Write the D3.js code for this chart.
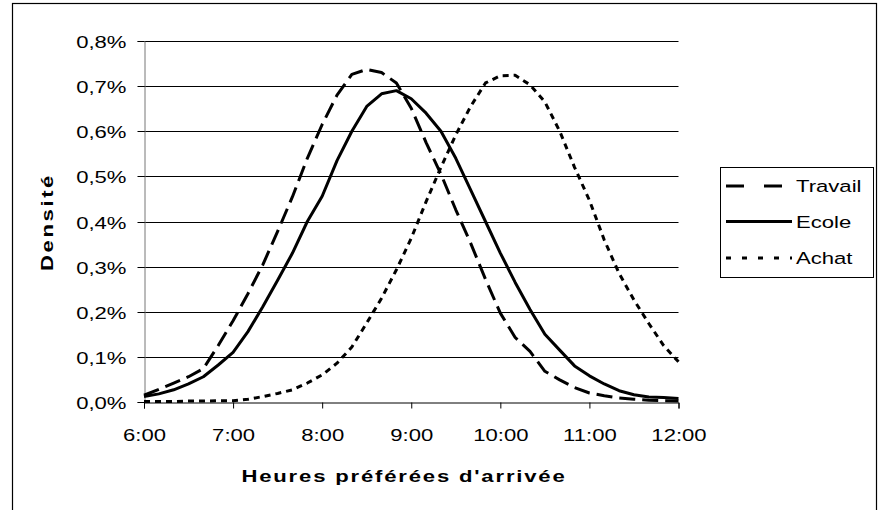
<!DOCTYPE html>
<html>
<head>
<meta charset="utf-8">
<script src="https://cdn.jsdelivr.net/npm/d3@7"></script>
<style>
  body { margin: 0; background: #fff; }
  text { font-family: "Liberation Sans", Arial, sans-serif; fill: #000; }
</style>
</head>
<body>
<div id="chart"></div>
<script>
// minutes after 6:00, one reading every 10 minutes
const minutes = d3.range(0, 361, 10);

// densities in %
const travail = [0.015, 0.028, 0.042, 0.056, 0.074, 0.125, 0.18, 0.24, 0.304, 0.378,
  0.455, 0.54, 0.615, 0.68, 0.726, 0.737, 0.73, 0.707, 0.651, 0.575,
  0.505, 0.426, 0.352, 0.272, 0.197, 0.143, 0.112, 0.068, 0.049, 0.032,
  0.02, 0.014, 0.009, 0.006, 0.004, 0.003, 0.002];
const ecole = [0.012, 0.018, 0.027, 0.04, 0.056, 0.082, 0.11, 0.156, 0.211, 0.27,
  0.33, 0.40, 0.456, 0.535, 0.60, 0.655, 0.683, 0.69, 0.672, 0.64,
  0.60, 0.54, 0.47, 0.40, 0.33, 0.265, 0.205, 0.15, 0.115, 0.08,
  0.058, 0.04, 0.025, 0.016, 0.011, 0.01, 0.008];
const achat = [0.001, 0.001, 0.001, 0.002, 0.002, 0.003, 0.003, 0.006, 0.012, 0.019,
  0.027, 0.042, 0.06, 0.086, 0.122, 0.175, 0.23, 0.293, 0.363, 0.444,
  0.52, 0.592, 0.655, 0.707, 0.723, 0.724, 0.703, 0.665, 0.60, 0.52,
  0.447, 0.359, 0.285, 0.226, 0.174, 0.125, 0.089];

const seriesNames = ['Travail', 'Ecole', 'Achat'];
const yTicks = [0, 0.1, 0.2, 0.3, 0.4, 0.5, 0.6, 0.7, 0.8];
const xTicks = [0, 60, 120, 180, 240, 300, 360];
const xTickLabels = ['6:00', '7:00', '8:00', '9:00', '10:00', '11:00', '12:00'];

const width = 879, height = 510;
const margin = {top: 41, right: 200, bottom: 108, left: 144};
const stretch = 1.3; // the original glyphs are drawn wide

const styles = {
  Travail: {dash: '16,7', width: 3, legendDash: '18,20'},
  Ecole: {dash: null, width: 3, legendDash: null},
  Achat: {dash: '6,5', width: 3, legendDash: '5,11'}
};

const svg = d3.select('#chart').append('svg')
  .attr('width', width).attr('height', height);

// outer chart frame
svg.append('rect')
  .attr('x', 12.5).attr('y', 3.5)
  .attr('width', 864).attr('height', 530)
  .attr('fill', 'none').attr('stroke', '#000').attr('stroke-width', 1.2);

const x = d3.scaleLinear().domain([0, 360]).range([margin.left, width - margin.right - 0.5]);
const y = d3.scaleLinear().domain([0, 0.8]).range([height - margin.bottom, margin.top]);

// horizontal grid
svg.append('g')
  .selectAll('line')
  .data(yTicks.slice(1))
  .join('line')
  .attr('x1', x(0)).attr('x2', x(360))
  .attr('y1', d => Math.round(y(d)) + 0.5).attr('y2', d => Math.round(y(d)) + 0.5)
  .attr('stroke', '#000').attr('stroke-width', 1);

// y axis
const yAxis = svg.append('g')
  .attr('transform', `translate(${Math.round(x(0)) + 0.5},0)`)
  .call(d3.axisLeft(y).tickValues(yTicks).tickSize(7).tickFormat(d => d3.format('.1f')(d).replace('.', ',') + '%'));
yAxis.select('.domain').attr('stroke', '#777');
yAxis.selectAll('.tick line').attr('stroke', '#000');
yAxis.selectAll('.tick').attr('transform', d => `translate(0,${Math.round(y(d)) + 0.5})`);
yAxis.selectAll('.tick text')
  .attr('x', null).attr('dy', null)
  .attr('transform', `translate(-18,6) scale(${stretch},1)`)
  .style('font-size', '17px').attr('font-family', null);

// x axis
const xAxis = svg.append('g')
  .attr('transform', `translate(0,${Math.round(y(0)) + 0.5})`)
  .call(d3.axisBottom(x).tickValues(xTicks).tickSize(6).tickFormat((d, i) => xTickLabels[i]));
xAxis.select('.domain').attr('stroke', '#000');
xAxis.selectAll('.tick text')
  .attr('y', null).attr('dy', null)
  .attr('transform', `translate(0,38) scale(${stretch},1)`)
  .style('font-size', '17px').attr('font-family', null);

// curves
const series = [travail, ecole, achat];
const line = d3.line()
  .x((d, i) => x(minutes[i]))
  .y(d => y(d));

svg.append('g')
  .selectAll('path')
  .data(series)
  .join('path')
  .attr('d', line)
  .attr('fill', 'none')
  .attr('stroke', '#000')
  .attr('stroke-width', (d, i) => styles[seriesNames[i]].width)
  .attr('stroke-dasharray', (d, i) => styles[seriesNames[i]].dash)
  .attr('stroke-linejoin', 'round');

// axis titles
svg.append('text')
  .attr('transform', `translate(53,222) rotate(-90) scale(${stretch},1)`)
  .attr('text-anchor', 'middle')
  .style('font-size', '17px').style('font-weight', 'bold')
  .style('letter-spacing', '2px')
  .text('Densité');

svg.append('text')
  .attr('transform', `translate(404,482) scale(${stretch},1)`)
  .attr('text-anchor', 'middle')
  .style('font-size', '17px').style('font-weight', 'bold')
  .style('letter-spacing', '1.4px')
  .text("Heures préférées d'arrivée");

// legend
const legend = svg.append('g');
legend.append('rect')
  .attr('x', 720.5).attr('y', 167.5)
  .attr('width', 153).attr('height', 110)
  .attr('fill', '#fff').attr('stroke', '#000').attr('stroke-width', 1);

const legendY = [186, 221.5, 258];
const items = legend.selectAll('g.item')
  .data(seriesNames)
  .join('g')
  .attr('class', 'item')
  .attr('transform', (d, i) => `translate(0,${legendY[i]})`);

items.append('line')
  .attr('x1', 726).attr('x2', 792)
  .attr('stroke', '#000')
  .attr('stroke-width', d => styles[d].width)
  .attr('stroke-dasharray', d => styles[d].legendDash);

items.append('text')
  .attr('transform', `translate(796,6) scale(${stretch},1)`)
  .style('font-size', '17px')
  .text(d => d);
</script>
</body>
</html>
